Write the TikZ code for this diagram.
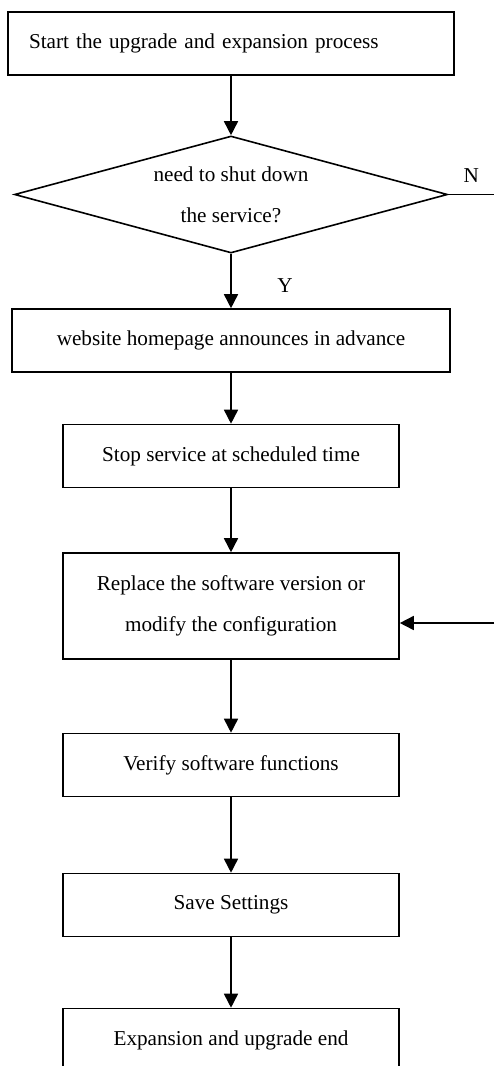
\documentclass[tikz,border=0pt]{standalone}
\usepackage{fontspec}
\setmainfont{Liberation Serif}
\usetikzlibrary{positioning,shapes.geometric,arrows.meta}

\begin{document}
\begin{tikzpicture}[->,>={Stealth[inset=0pt,length=7pt,width=7pt]},auto,thick,
    every node/.style={font=\fontsize{10.6pt}{20.5pt}\selectfont},
    step box/.style={draw,rectangle,align=center,minimum width=168pt,minimum height=31.5pt,inner sep=2pt},
    first box/.style={draw,rectangle,align=left,text width=202pt,inner xsep=10.5pt,minimum height=31.5pt},
    decision/.style={draw,diamond,aspect=3.7,inner sep=0pt,align=center,minimum width=216.5pt,minimum height=58.5pt}]
                \clip (0,0) rectangle (247pt,-533pt);

                \node[first box] (start) at (115.5pt,-21.75pt) {Start the upgrade and expansion process};
                \node[decision] (dec) [below of=start, node distance=75.5pt] {need to shut down\\the service?};
                \node[step box] (home) [minimum width=219pt, below of=dec, node distance=73pt] {website homepage announces in advance};
                \node[step box] (stop) [below of=home, node distance=57.75pt] {Stop service at scheduled time};
                \node[step box] (repl) [minimum height=53pt, below of=stop, node distance=75pt] {Replace the software version or\\modify the configuration};
                \node[step box] (verify) [below of=repl, node distance=79.5pt] {Verify software functions};
                \node[step box] (save) [below of=verify, node distance=70pt] {Save Settings};
                \node[step box] (finish) [below of=save, node distance=67.5pt] {Expansion and upgrade end};

                \coordinate (nend) at (247pt,-97.25pt);
                \coordinate (back) at (247pt,-311.5pt);

                \path
                    (start) edge (dec)
                    (dec) edge node[right, pos=0.59, xshift=19.5pt] {Y} (home)
                    (home) edge (stop)
                    (stop) edge (repl)
                    (repl) edge (verify)
                    (verify) edge (save)
                    (save) edge (finish)
                ;

                \path
                    (dec.east) edge[-] node[above, yshift=2.5pt] {N} (nend)
                    (back) edge (repl.east |- back)
                ;
            \end{tikzpicture}
\end{document}
